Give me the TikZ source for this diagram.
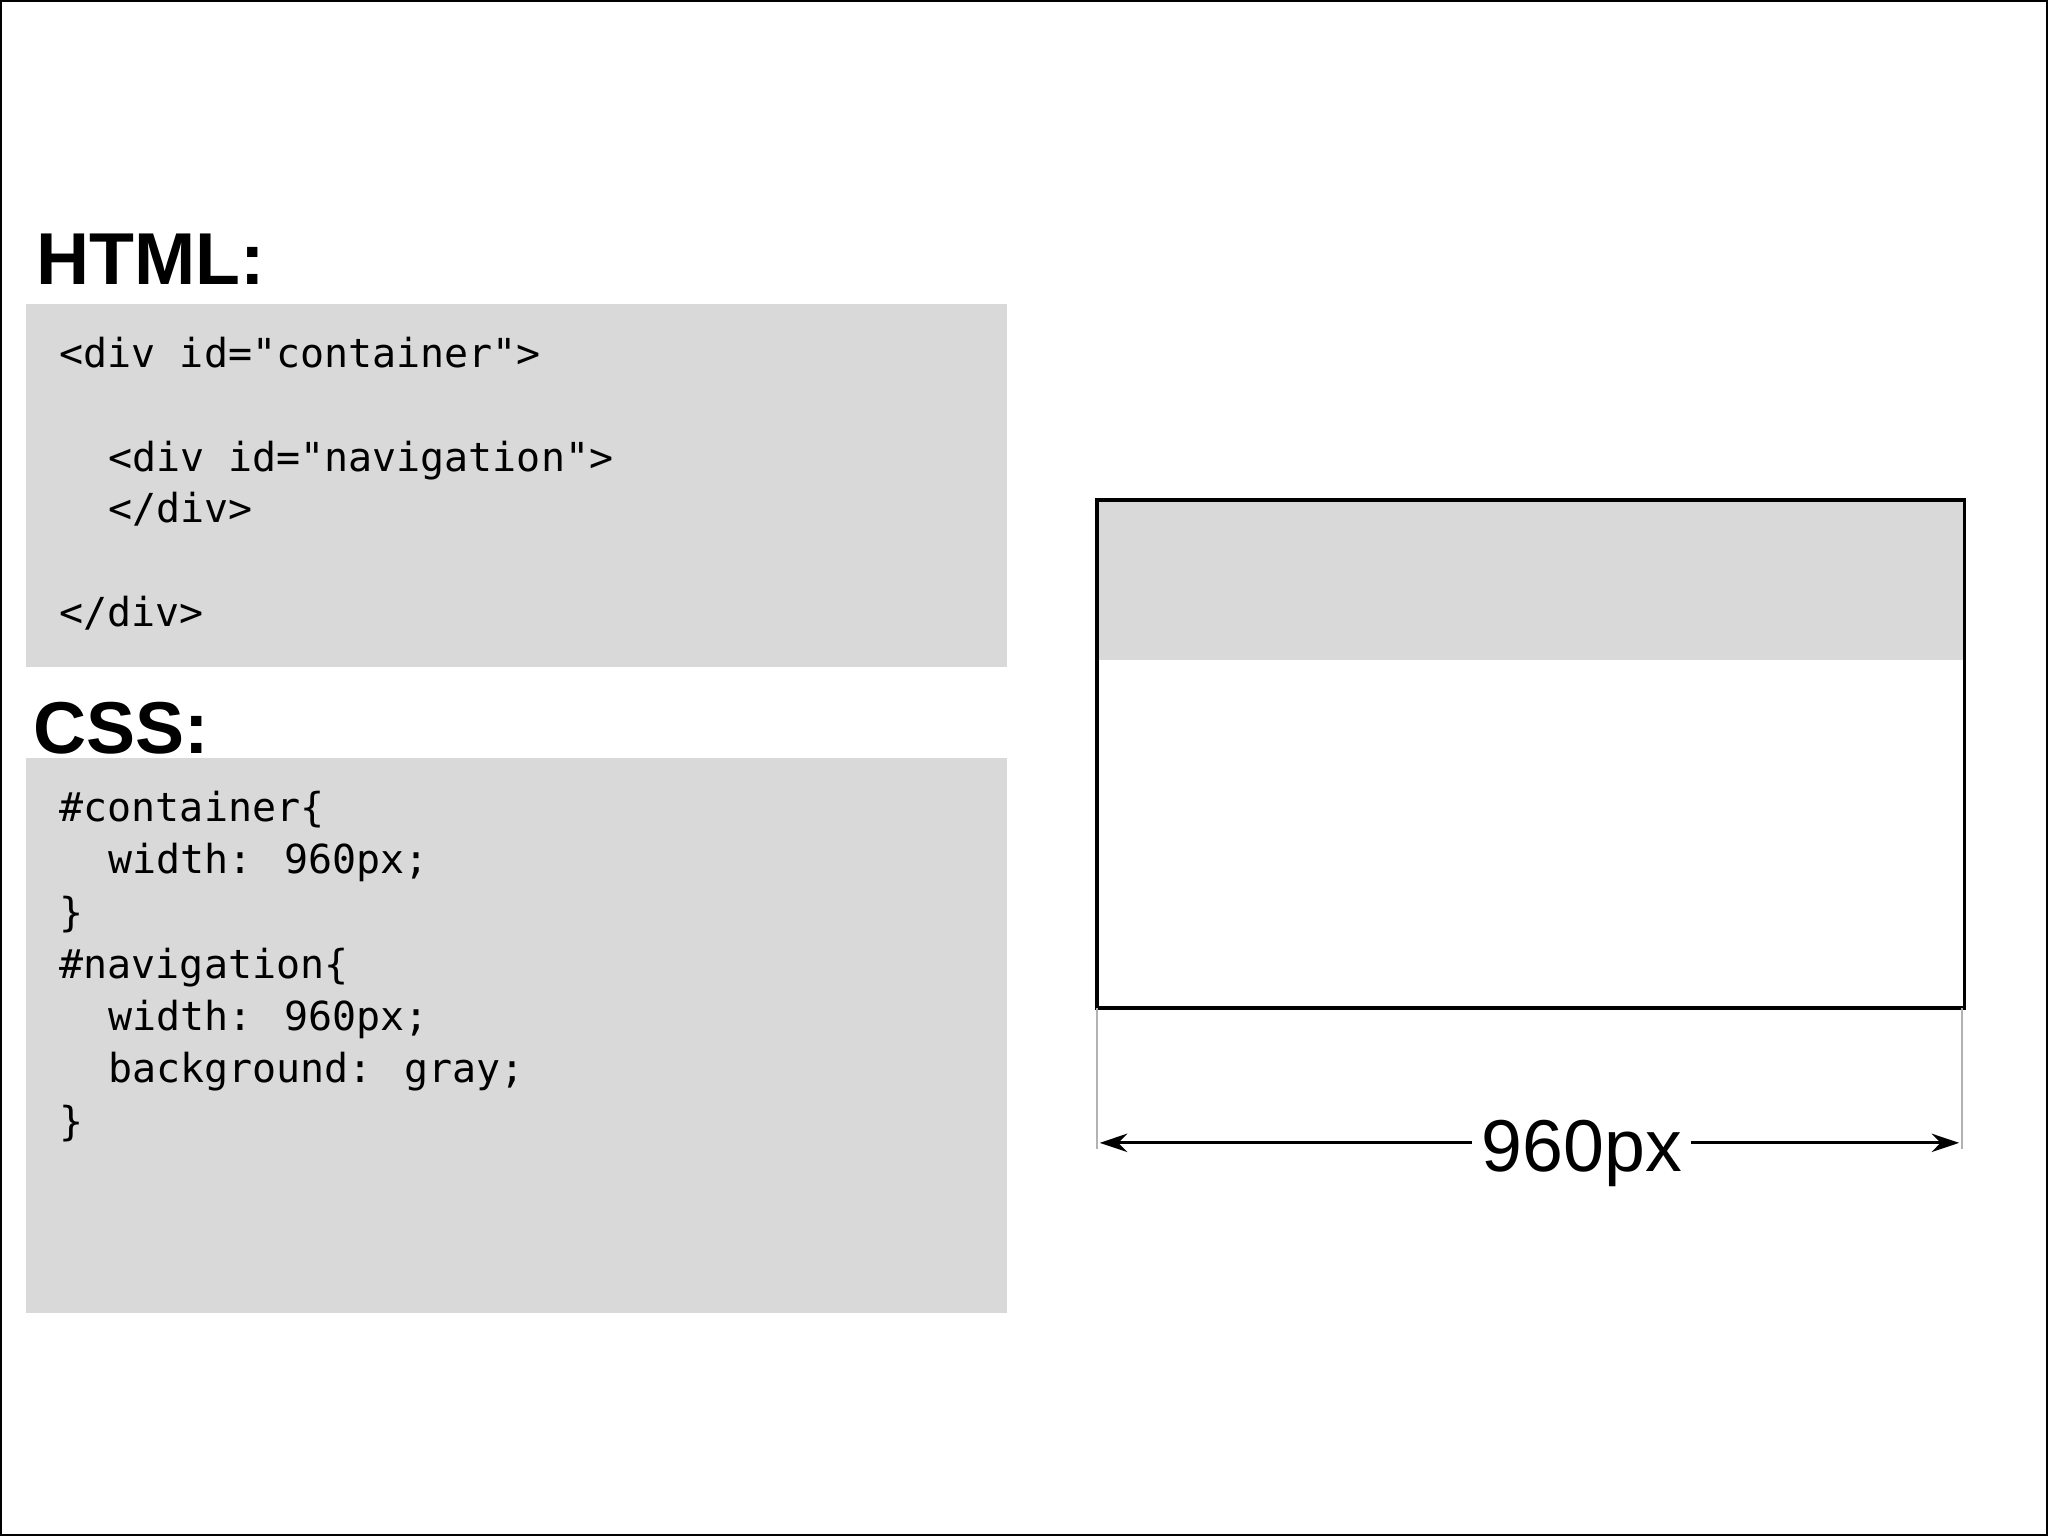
\documentclass[tikz,border=0pt]{standalone}
\usepackage{fontspec}
\setmainfont{Liberation Sans}
\newfontfamily\codefont{DejaVu Sans Mono}
\usetikzlibrary{arrows.meta}
\definecolor{boxgray}{HTML}{D9D9D9}
\tikzset{
  codebox/.style={fill=boxgray,draw=none},
  heading/.style={anchor=base west,inner sep=0pt,font=\fontsize{16}{18}\selectfont\bfseries},
  code/.style={anchor=base west,inner sep=0pt,font=\codefont\fontsize{8.7}{11.3}\selectfont},
  ext/.style={draw=gray!60,line width=0.4pt},
}
\begin{document}
\begin{tikzpicture}[x=0.01cm,y=-0.01cm]
\useasboundingbox (0,0) rectangle (1568,1176);
\draw[line width=0.8pt] (0,0) rectangle (1568,1176);
\node[heading] (h1) at (27,218) {HTML:};
\fill[codebox] (20,233) rectangle (771,511);
\node[code] (c1) at (45,281) {<div id="container">};
\node[code] (c2) at (82,361) {<div id="navigation">};
\node[code] (c3) at (82,400) {</div>};
\node[code] (c4) at (45,480) {</div>};
\node[heading] (h2) at (25,577) {CSS:};
\fill[codebox] (20,580) rectangle (771,1005);
\node[code] (d1) at (45,629) {\#container\{};
\node[code] (d2) at (82,669) {width: 960px;};
\node[code] (d3) at (45,709) {\}};
\node[code] (d4) at (45,749) {\#navigation\{};
\node[code] (d5) at (82,789) {width: 960px;};
\node[code] (d6) at (82,829) {background: gray;};
\node[code] (d7) at (45,869) {\}};
\fill[codebox] (840,383) rectangle (1504,505);
\draw[line width=0.8pt] (840,383) rectangle (1504,772);
\coordinate (l1) at (840,772); \coordinate (l2) at (840,880);
\coordinate (r1) at (1502,772); \coordinate (r2) at (1502,880);
\draw[ext] (l1) -- (l2);
\draw[ext] (r1) -- (r2);
\coordinate (a1) at (842,875); \coordinate (a2) at (1500,875);
\draw[line width=0.6pt,{Stealth[length=6pt,width=4pt]}-{Stealth[length=6pt,width=4pt]}] (a1) -- (a2);
\node[fill=white,inner sep=2pt,font=\fontsize{16}{18}\selectfont] (lbl) at (1211,883) {960px};
\end{tikzpicture}
\end{document}
